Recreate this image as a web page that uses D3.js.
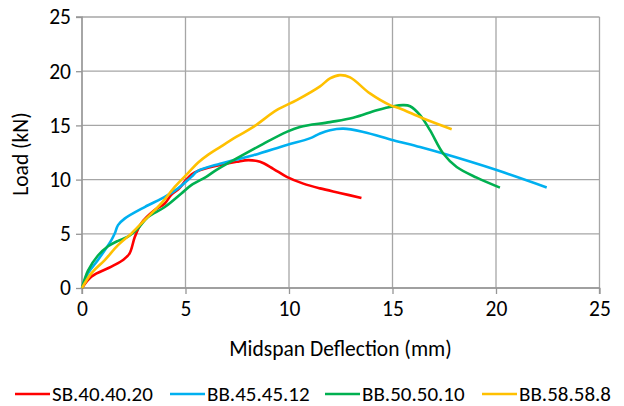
<!DOCTYPE html>
<html>
<head>
<meta charset="utf-8">
<script src="https://cdn.jsdelivr.net/npm/d3@7"></script>
<style>
  html, body { margin: 0; padding: 0; background: #fff; }
  svg { display: block; font-family: Carlito, Lato, "Open Sans", sans-serif; }
</style>
</head>
<body>
<svg id="chart" width="624" height="406"></svg>
<script>
// ---- data ----
const seriesNames = ["SB.40.40.20", "BB.45.45.12", "BB.50.50.10", "BB.58.58.8"];
const seriesColors = ["#FF0000", "#00B0F0", "#00B050", "#FFC000"];

const sbX = [0, 0.45, 1.42, 2.0, 2.3, 2.55, 2.86, 3.51, 4.0, 4.31, 4.7, 5.0, 5.3, 5.6, 6.34, 7.47, 8.04, 8.6, 9.24, 9.89, 10.69, 11.5, 12.5, 13.5];
const sbY = [0, 1.05, 1.97, 2.6, 3.2, 4.7, 5.96, 7.19, 7.8, 8.6, 9.2, 9.9, 10.5, 10.8, 11.2, 11.64, 11.8, 11.64, 11.0, 10.25, 9.63, 9.19, 8.75, 8.3];

const bb45X = [0, 0.29, 0.77, 1.42, 1.58, 1.74, 2.06, 3.03, 4.0, 4.64, 5.28, 5.6, 6.67, 8.28, 9.89, 11.0, 11.5, 11.98, 12.62, 13.59, 15.04, 16.33, 17.45, 20.03, 22.45];
const bb45Y = [0, 1.35, 2.58, 4.42, 5.02, 5.8, 6.4, 7.47, 8.4, 9.19, 10.25, 10.8, 11.47, 12.25, 13.2, 13.8, 14.26, 14.56, 14.7, 14.4, 13.64, 13.0, 12.4, 10.88, 9.28];

const bb50X = [0, 0.29, 0.77, 1.26, 1.74, 2.22, 2.7, 3.19, 4.0, 4.8, 5.28, 6.0, 6.5, 7.47, 8.76, 9.89, 10.53, 11.98, 13.1, 14.24, 15.04, 15.52, 15.85, 16.33, 16.81, 17.45, 18.1, 19.07, 20.19];
const bb50Y = [0, 1.6, 3.0, 3.85, 4.35, 4.73, 5.48, 6.55, 7.47, 8.72, 9.49, 10.25, 10.9, 11.95, 13.3, 14.4, 14.86, 15.3, 15.7, 16.4, 16.77, 16.87, 16.77, 15.95, 14.56, 12.4, 11.16, 10.18, 9.26];

const bb58X = [0, 0.45, 1.1, 1.74, 2.38, 3.03, 3.83, 4.48, 5.12, 5.6, 6.1, 6.67, 7.47, 8.28, 9.4, 10.37, 11.5, 11.98, 12.46, 12.95, 13.91, 14.88, 15.36, 16.49, 17.86];
const bb58Y = [0, 1.35, 2.58, 3.96, 5.02, 6.27, 7.8, 9.33, 10.6, 11.55, 12.3, 13.0, 13.96, 14.86, 16.4, 17.33, 18.6, 19.33, 19.64, 19.43, 17.95, 16.87, 16.56, 15.64, 14.65];

const xTicks = [0, 5, 10, 15, 20, 25];
const yTicks = [0, 5, 10, 15, 20, 25];
const xTitle = "Midspan Deflection (mm)";
const yTitle = "Load (kN)";

// ---- build ----
const seriesX = [sbX, bb45X, bb50X, bb58X];
const seriesY = [sbY, bb45Y, bb50Y, bb58Y];
const series = seriesNames.map((name, i) => ({
  name, color: seriesColors[i],
  pts: seriesX[i].map((x, j) => [x, seriesY[i][j]])
}));

const svg = d3.select("#chart");
const x = d3.scaleLinear().domain([0, 25]).range([82, 599.5]);
const y = d3.scaleLinear().domain([0, 25]).range([288, 17]);
const gridColor = "#A6A6A6";
const fontSize = 21.5;

// gridlines
const g = svg.append("g");
g.selectAll("line.hx").data(yTicks).join("line")
  .attr("x1", x(0)).attr("x2", x(25))
  .attr("y1", d => y(d)).attr("y2", d => y(d))
  .attr("stroke", gridColor).attr("stroke-width", 1.3);
g.selectAll("line.vx").data(xTicks).join("line")
  .attr("y1", y(0)).attr("y2", y(25))
  .attr("x1", d => x(d)).attr("x2", d => x(d))
  .attr("stroke", gridColor).attr("stroke-width", 1.3);

// axes
const xAxis = d3.axisBottom(x).tickValues(xTicks).tickSize(6).tickPadding(7);
const yAxis = d3.axisLeft(y).tickValues(yTicks).tickSize(6).tickPadding(5);
const gx = svg.append("g").attr("transform", `translate(0,${y(0)})`).call(xAxis);
const gy = svg.append("g").attr("transform", `translate(${x(0)},0)`).call(yAxis);
[gx, gy].forEach(a => {
  a.select(".domain").attr("stroke", "#969696").attr("stroke-width", 1.3);
  a.selectAll(".tick line").attr("stroke", "#969696").attr("stroke-width", 1.3);
  a.selectAll("text").attr("fill", "#000").style("font-size", fontSize + "px")
    .style("font-family", "Carlito, Lato, sans-serif");
});
gy.select(".domain").attr("d", `M-6,${y(25)}H0V${y(0)}`);
gx.select(".domain").attr("d", `M0,6V0H${x(25) - x(0)}V6`).attr("transform", `translate(${x(0)},0)`);

// lines
const line = d3.line().x(d => x(d[0])).y(d => y(d[1])).curve(d3.curveCatmullRom.alpha(0.5));
svg.append("g").selectAll("path").data(series).join("path")
  .attr("d", d => line(d.pts))
  .attr("fill", "none")
  .attr("stroke", d => d.color)
  .attr("stroke-width", 2.6)
  .attr("stroke-linejoin", "round")
  .attr("stroke-linecap", "butt");

// axis titles
svg.append("text").attr("x", 340.5).attr("y", 356)
  .attr("text-anchor", "middle").style("font-size", fontSize + "px").text(xTitle);
svg.append("text").attr("transform", `translate(28,154) rotate(-90)`)
  .attr("text-anchor", "middle").style("font-size", fontSize + "px").text(yTitle);

// legend
const legendX = [15, 170, 325, 482];
const lg = svg.append("g").selectAll("g").data(series).join("g")
  .attr("transform", (d, i) => `translate(${legendX[i]},394)`);
lg.append("line").attr("x1", 0).attr("x2", 35).attr("y1", 0).attr("y2", 0)
  .attr("stroke", d => d.color).attr("stroke-width", 2.6);
lg.append("text").attr("x", 37).attr("y", 7)
  .style("font-size", "21px").text(d => d.name);
</script>
</body>
</html>
